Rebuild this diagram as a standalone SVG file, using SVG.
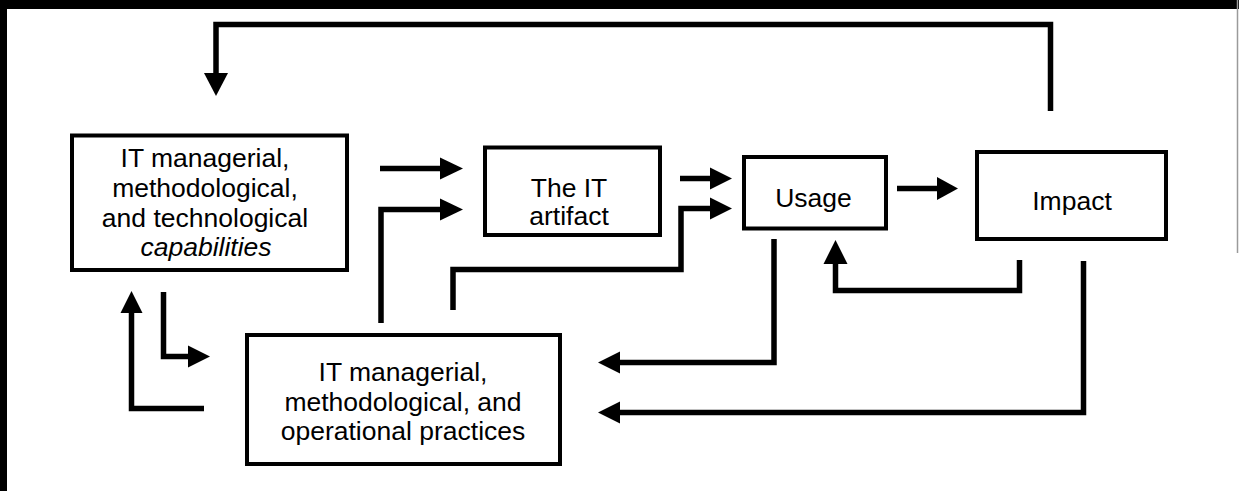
<svg xmlns="http://www.w3.org/2000/svg" width="1239" height="491" viewBox="0 0 1239 491">
<style>
.box{fill:#fff;stroke:#000;stroke-width:4}
.t{font-family:"Liberation Sans",Arial,Helvetica,sans-serif;font-size:26.5px;fill:#000;text-anchor:middle}
.c{fill:none;stroke:#000;stroke-width:5.5;stroke-linejoin:miter;stroke-linecap:butt}
.h{fill:#000;stroke:none}
</style>
<rect x="0" y="0" width="1239" height="491" fill="#fff"/>
<g id="frame">
<rect x="0" y="0" width="1239" height="9" fill="#000"/>
<rect x="0" y="0" width="7" height="491" fill="#000"/>
<line x1="1237.5" y1="0" x2="1237.5" y2="253" stroke="#9a9a9a" stroke-width="1.5"/>
</g>
<g id="connectors">
<path class="c" d="M1050.5,111 V24.5 H216 V74"/>
<polygon class="h" points="204,73 228,73 216,96"/>
<path class="c" d="M380,168.5 H441"/>
<polygon class="h" points="440,157.5 440,179.5 463,168.5"/>
<path class="c" d="M381,323 V209.5 H441"/>
<polygon class="h" points="440,198.5 440,220.5 463,209.5"/>
<path class="c" d="M680,178.5 H711"/>
<polygon class="h" points="710,167.5 710,189.5 732,178.5"/>
<path class="c" d="M453,310 V269.5 H681 V208.5 H711"/>
<polygon class="h" points="710,197.5 710,219.5 732,208.5"/>
<path class="c" d="M897,188.5 H938"/>
<polygon class="h" points="937,177 937,200 958,188.5"/>
<path class="c" d="M1019.5,260 V290.5 H835.5 V263"/>
<polygon class="h" points="823.5,264 847.5,264 835.5,240"/>
<path class="c" d="M774,239 V362.5 H619"/>
<polygon class="h" points="620,351.5 620,373.5 598,362.5"/>
<path class="c" d="M1083.5,261 V412.5 H619"/>
<polygon class="h" points="620,401.5 620,423.5 598,412.5"/>
<path class="c" d="M163.5,292 V356.5 H189"/>
<polygon class="h" points="188,345.5 188,367.5 210,356.5"/>
<path class="c" d="M204,408.5 H131.5 V312"/>
<polygon class="h" points="120.5,313 142.5,313 131.5,291"/>
</g>
<g id="capabilities">
<rect class="box" x="72" y="135.5" width="275" height="134.5"/>
<text class="t" x="205" y="167">IT managerial,</text>
<text class="t" x="205" y="197">methodological,</text>
<text class="t" x="205" y="226.5">and technological</text>
<text class="t" x="206" y="256" font-style="italic">capabilities</text>
</g>
<g id="artifact">
<rect class="box" x="485" y="147.5" width="175" height="87.5"/>
<text class="t" x="569" y="197">The IT</text>
<text class="t" x="569" y="225">artifact</text>
</g>
<g id="usage">
<rect class="box" x="744" y="157" width="142" height="71.5"/>
<text class="t" x="813.5" y="207">Usage</text>
</g>
<g id="impact">
<rect class="box" x="977" y="152" width="189" height="87"/>
<text class="t" x="1072" y="209.5">Impact</text>
</g>
<g id="practices">
<rect class="box" x="247" y="335" width="313" height="129"/>
<text class="t" x="403" y="381">IT managerial,</text>
<text class="t" x="403" y="410.5">methodological, and</text>
<text class="t" x="403" y="440">operational practices</text>
</g>
</svg>
